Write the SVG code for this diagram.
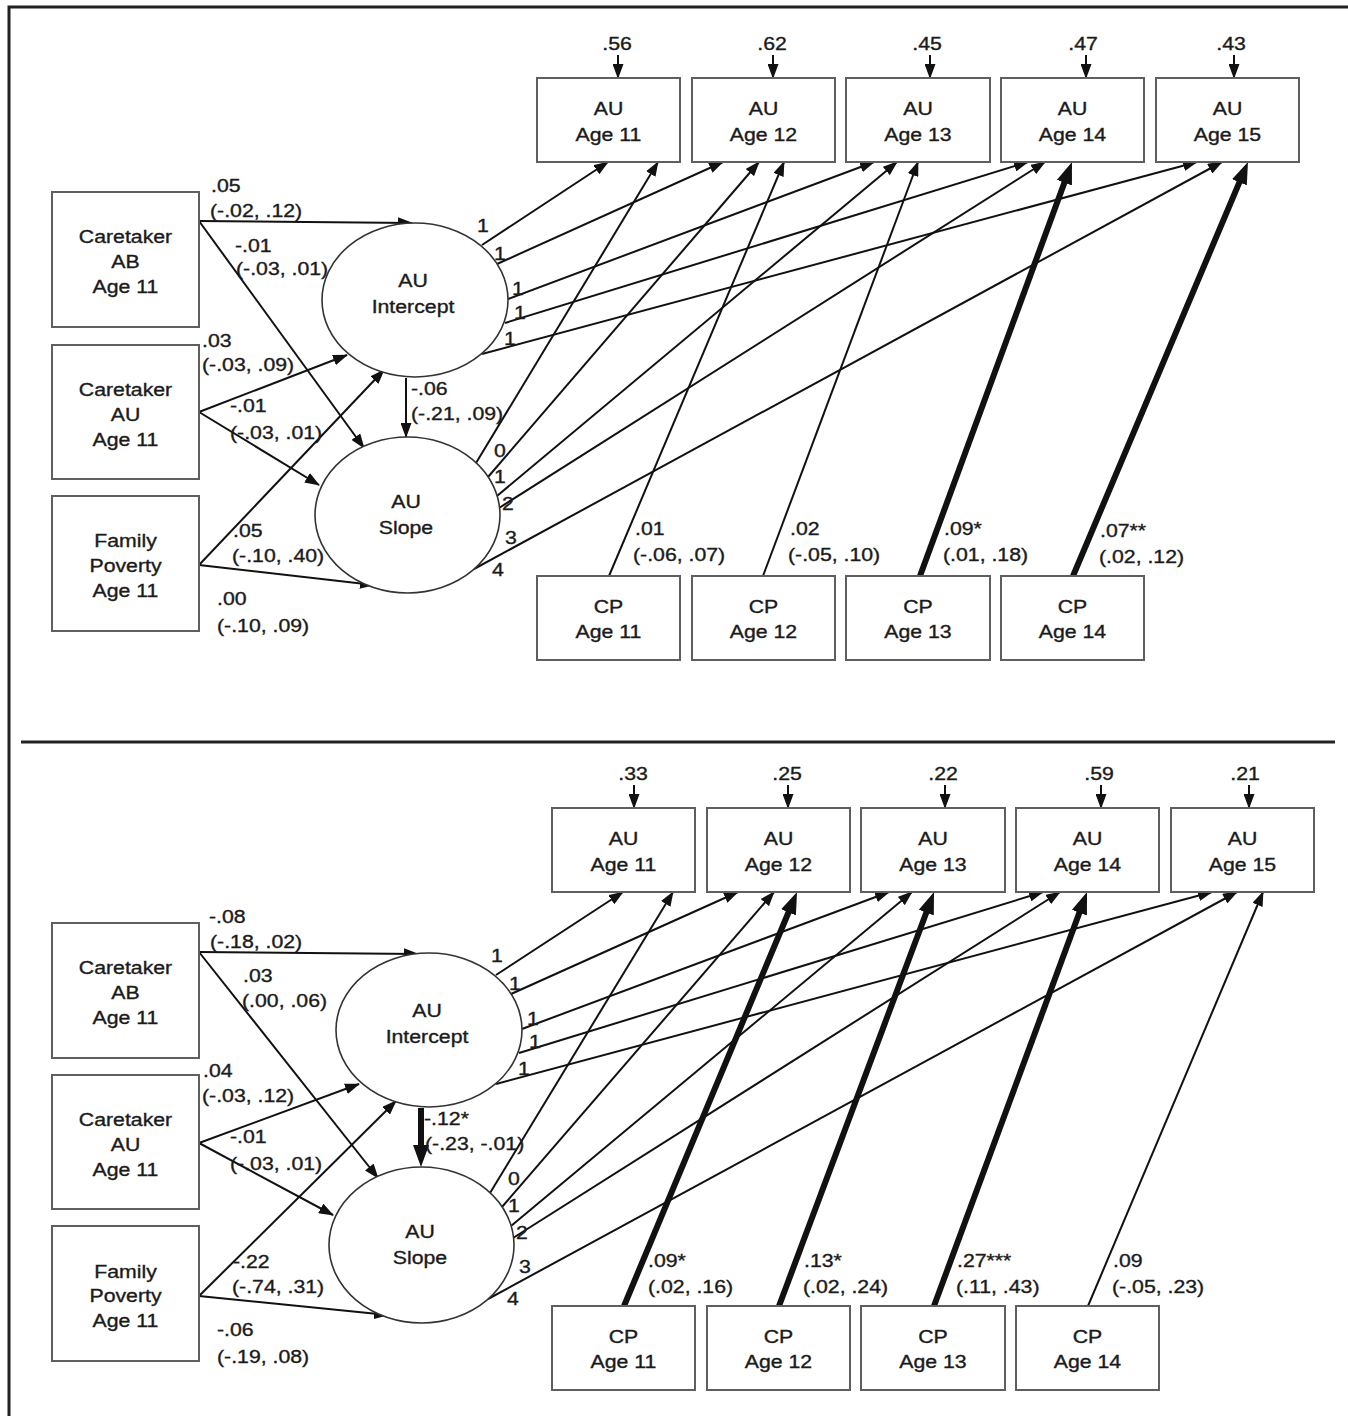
<svg xmlns="http://www.w3.org/2000/svg" width="1348" height="1416" viewBox="0 0 1348 1416">
<defs>
<marker id="ah" markerWidth="15" markerHeight="11" refX="14" refY="5.5" orient="auto" markerUnits="userSpaceOnUse"><path d="M0,0 L15,5.5 L0,11 z" fill="#111"/></marker>
<marker id="AH" markerWidth="22" markerHeight="16" refX="2" refY="8" orient="auto" markerUnits="userSpaceOnUse"><path d="M0,0 L22,8 L0,16 z" fill="#111"/></marker>
</defs>
<style>
text{font-family:"Liberation Sans",Arial,sans-serif;font-size:18.5px;fill:#1b1b1b;stroke:#1b1b1b;stroke-width:0.35px}
.c{text-anchor:middle}
.box{fill:#fff;stroke:#5f5f5f;stroke-width:2}
.ell{fill:#fff;stroke:#333;stroke-width:1.6}
.ar{stroke:#111;stroke-width:2;fill:none;marker-end:url(#ah)}
.th{stroke:#111;stroke-width:6;fill:none;marker-end:url(#AH)}
.frame{stroke:#222;stroke-width:3;fill:none}
</style>
<rect width="1348" height="1416" fill="#fff"/>
<g id="frame">
<path class="frame" d="M9,1416 V7 H1348"/>
<line class="frame" x1="21" y1="742" x2="1335" y2="742"/>
</g>

<!-- ================= TOP PANEL ================= -->
<g id="connectors-top">
<line class="ar" x1="199" y1="221" x2="412" y2="223"/>
<line class="ar" x1="199" y1="221" x2="364" y2="448"/>
<line class="ar" x1="199" y1="412" x2="347" y2="355"/>
<line class="ar" x1="199" y1="412" x2="319" y2="485"/>
<line class="ar" x1="199" y1="565" x2="384" y2="370"/>
<line class="ar" x1="199" y1="565" x2="374" y2="585"/>
<line class="ar" x1="406" y1="378" x2="406" y2="437"/>
<line class="ar" x1="482" y1="245" x2="608" y2="162"/>
<line class="ar" x1="497" y1="264" x2="723" y2="162"/>
<line class="ar" x1="508" y1="299" x2="874" y2="162"/>
<line class="ar" x1="505" y1="323" x2="1028" y2="162"/>
<line class="ar" x1="482" y1="354" x2="1197" y2="162"/>
<line class="ar" x1="476" y1="463" x2="658" y2="162"/>
<line class="ar" x1="488" y1="477" x2="759" y2="162"/>
<line class="ar" x1="497" y1="496" x2="897" y2="162"/>
<line class="ar" x1="499" y1="508" x2="1045" y2="162"/>
<line class="ar" x1="474" y1="569" x2="1222" y2="162"/>
<line class="ar" x1="609" y1="576" x2="784" y2="162"/>
<line class="ar" x1="763" y1="576" x2="918" y2="162"/>
<line class="th" x1="920" y1="576" x2="1065.1" y2="180.8"/>
<line class="th" x1="1073" y1="576" x2="1240.2" y2="180.4"/>
<line class="ar" x1="618" y1="55" x2="618" y2="78"/>
<line class="ar" x1="773" y1="55" x2="773" y2="78"/>
<line class="ar" x1="930" y1="55" x2="930" y2="78"/>
<line class="ar" x1="1086" y1="55" x2="1086" y2="78"/>
<line class="ar" x1="1234" y1="55" x2="1234" y2="78"/>
</g>

<g id="edge-labels-top">
<text transform="matrix(1.15 0 0 1 211 192)">.05</text>
<text transform="matrix(1.15 0 0 1 210 217)">(-.02, .12)</text>
<text transform="matrix(1.15 0 0 1 235 252)">-.01</text>
<text transform="matrix(1.15 0 0 1 236 275)">(-.03, .01)</text>
<text transform="matrix(1.15 0 0 1 202 347)">.03</text>
<text transform="matrix(1.15 0 0 1 202 371)">(-.03, .09)</text>
<text transform="matrix(1.15 0 0 1 230 412)">-.01</text>
<text transform="matrix(1.15 0 0 1 230 439)">(-.03, .01)</text>
<text transform="matrix(1.15 0 0 1 233 537)">.05</text>
<text transform="matrix(1.15 0 0 1 232 562)">(-.10, .40)</text>
<text transform="matrix(1.15 0 0 1 217 605)">.00</text>
<text transform="matrix(1.15 0 0 1 217 632)">(-.10, .09)</text>
<text transform="matrix(1.15 0 0 1 411 395)">-.06</text>
<text transform="matrix(1.15 0 0 1 411 420)">(-.21, .09)</text>
<text transform="matrix(1.15 0 0 1 635 535)">.01</text>
<text transform="matrix(1.15 0 0 1 633 561)">(-.06, .07)</text>
<text transform="matrix(1.15 0 0 1 790 535)">.02</text>
<text transform="matrix(1.15 0 0 1 788 561)">(-.05, .10)</text>
<text transform="matrix(1.15 0 0 1 944 535)">.09*</text>
<text transform="matrix(1.15 0 0 1 943 561)">(.01, .18)</text>
<text transform="matrix(1.15 0 0 1 1100 537)">.07**</text>
<text transform="matrix(1.15 0 0 1 1099 563)">(.02, .12)</text>
<text class="c" transform="matrix(1.15 0 0 1 483 232)">1</text>
<text class="c" transform="matrix(1.15 0 0 1 500 260)">1</text>
<text class="c" transform="matrix(1.15 0 0 1 518 295)">1</text>
<text class="c" transform="matrix(1.15 0 0 1 520 319)">1</text>
<text class="c" transform="matrix(1.15 0 0 1 510 345)">1</text>
<text class="c" transform="matrix(1.15 0 0 1 500 457)">0</text>
<text class="c" transform="matrix(1.15 0 0 1 500 483)">1</text>
<text class="c" transform="matrix(1.15 0 0 1 508 510)">2</text>
<text class="c" transform="matrix(1.15 0 0 1 511 544)">3</text>
<text class="c" transform="matrix(1.15 0 0 1 498 576)">4</text>
<text class="c" transform="matrix(1.15 0 0 1 617 50)">.56</text>
<text class="c" transform="matrix(1.15 0 0 1 772 50)">.62</text>
<text class="c" transform="matrix(1.15 0 0 1 927 50)">.45</text>
<text class="c" transform="matrix(1.15 0 0 1 1083 50)">.47</text>
<text class="c" transform="matrix(1.15 0 0 1 1231 50)">.43</text>
</g>

<g id="t-caretaker-ab"><rect class="box" x="52" y="192" width="147" height="135"/>
<text class="c" transform="matrix(1.15 0 0 1 125.5 243)">Caretaker</text><text class="c" transform="matrix(1.15 0 0 1 125.5 268)">AB</text><text class="c" transform="matrix(1.15 0 0 1 125.5 293)">Age 11</text></g>
<g id="t-caretaker-au"><rect class="box" x="52" y="345" width="147" height="134"/>
<text class="c" transform="matrix(1.15 0 0 1 125.5 396)">Caretaker</text><text class="c" transform="matrix(1.15 0 0 1 125.5 421)">AU</text><text class="c" transform="matrix(1.15 0 0 1 125.5 446)">Age 11</text></g>
<g id="t-family-poverty"><rect class="box" x="52" y="496" width="147" height="135"/>
<text class="c" transform="matrix(1.15 0 0 1 125.5 547)">Family</text><text class="c" transform="matrix(1.15 0 0 1 125.5 572)">Poverty</text><text class="c" transform="matrix(1.15 0 0 1 125.5 597)">Age 11</text></g>
<g id="t-au-intercept"><ellipse class="ell" cx="415" cy="300" rx="93" ry="77"/>
<text class="c" transform="matrix(1.15 0 0 1 413 287)">AU</text><text class="c" transform="matrix(1.15 0 0 1 413 313)">Intercept</text></g>
<g id="t-au-slope"><ellipse class="ell" cx="407.5" cy="515" rx="92.5" ry="78"/>
<text class="c" transform="matrix(1.15 0 0 1 406 508)">AU</text><text class="c" transform="matrix(1.15 0 0 1 406 534)">Slope</text></g>
<g id="t-au-11"><rect class="box" x="537" y="78" width="143" height="84"/>
<text class="c" transform="matrix(1.15 0 0 1 608.5 115)">AU</text><text class="c" transform="matrix(1.15 0 0 1 608.5 141)">Age 11</text></g>
<g id="t-au-12"><rect class="box" x="692" y="78" width="143" height="84"/>
<text class="c" transform="matrix(1.15 0 0 1 763.5 115)">AU</text><text class="c" transform="matrix(1.15 0 0 1 763.5 141)">Age 12</text></g>
<g id="t-au-13"><rect class="box" x="846" y="78" width="144" height="84"/>
<text class="c" transform="matrix(1.15 0 0 1 918 115)">AU</text><text class="c" transform="matrix(1.15 0 0 1 918 141)">Age 13</text></g>
<g id="t-au-14"><rect class="box" x="1001" y="78" width="143" height="84"/>
<text class="c" transform="matrix(1.15 0 0 1 1072.5 115)">AU</text><text class="c" transform="matrix(1.15 0 0 1 1072.5 141)">Age 14</text></g>
<g id="t-au-15"><rect class="box" x="1156" y="78" width="143" height="84"/>
<text class="c" transform="matrix(1.15 0 0 1 1227.5 115)">AU</text><text class="c" transform="matrix(1.15 0 0 1 1227.5 141)">Age 15</text></g>
<g id="t-cp-11"><rect class="box" x="537" y="576" width="143" height="84"/>
<text class="c" transform="matrix(1.15 0 0 1 608.5 613)">CP</text><text class="c" transform="matrix(1.15 0 0 1 608.5 638)">Age 11</text></g>
<g id="t-cp-12"><rect class="box" x="692" y="576" width="143" height="84"/>
<text class="c" transform="matrix(1.15 0 0 1 763.5 613)">CP</text><text class="c" transform="matrix(1.15 0 0 1 763.5 638)">Age 12</text></g>
<g id="t-cp-13"><rect class="box" x="846" y="576" width="144" height="84"/>
<text class="c" transform="matrix(1.15 0 0 1 918 613)">CP</text><text class="c" transform="matrix(1.15 0 0 1 918 638)">Age 13</text></g>
<g id="t-cp-14"><rect class="box" x="1001" y="576" width="143" height="84"/>
<text class="c" transform="matrix(1.15 0 0 1 1072.5 613)">CP</text><text class="c" transform="matrix(1.15 0 0 1 1072.5 638)">Age 14</text></g>

<!-- ================= BOTTOM PANEL ================= -->
<g id="connectors-bottom">
<line class="ar" x1="199" y1="952" x2="418" y2="954"/>
<line class="ar" x1="199" y1="952" x2="378" y2="1178"/>
<line class="ar" x1="199" y1="1143" x2="359" y2="1084"/>
<line class="ar" x1="199" y1="1143" x2="333" y2="1215"/>
<line class="ar" x1="199" y1="1296" x2="396" y2="1101"/>
<line class="ar" x1="199" y1="1296" x2="388" y2="1315"/>
<line class="th" x1="421" y1="1108" x2="421" y2="1147"/>
<line class="ar" x1="496" y1="975" x2="623" y2="892"/>
<line class="ar" x1="511" y1="994" x2="738" y2="892"/>
<line class="ar" x1="522" y1="1029" x2="889" y2="892"/>
<line class="ar" x1="519" y1="1053" x2="1043" y2="892"/>
<line class="ar" x1="496" y1="1084" x2="1212" y2="892"/>
<line class="ar" x1="490" y1="1193" x2="673" y2="892"/>
<line class="ar" x1="502" y1="1207" x2="774" y2="892"/>
<line class="ar" x1="511" y1="1226" x2="912" y2="892"/>
<line class="ar" x1="513" y1="1238" x2="1060" y2="892"/>
<line class="ar" x1="488" y1="1299" x2="1237" y2="892"/>
<line class="th" x1="624" y1="1306" x2="789.3" y2="910.5"/>
<line class="th" x1="779" y1="1306" x2="927" y2="910.7"/>
<line class="th" x1="934" y1="1306" x2="1080.1" y2="910.8"/>
<line class="ar" x1="1088" y1="1306" x2="1263" y2="892"/>
<line class="ar" x1="634" y1="785" x2="634" y2="808"/>
<line class="ar" x1="788" y1="785" x2="788" y2="808"/>
<line class="ar" x1="945" y1="785" x2="945" y2="808"/>
<line class="ar" x1="1101" y1="785" x2="1101" y2="808"/>
<line class="ar" x1="1249" y1="785" x2="1249" y2="808"/>
</g>

<g id="edge-labels-bottom">
<text transform="matrix(1.15 0 0 1 209 923)">-.08</text>
<text transform="matrix(1.15 0 0 1 210 948)">(-.18, .02)</text>
<text transform="matrix(1.15 0 0 1 243 982)">.03</text>
<text transform="matrix(1.15 0 0 1 242 1007)">(.00, .06)</text>
<text transform="matrix(1.15 0 0 1 203 1077)">.04</text>
<text transform="matrix(1.15 0 0 1 202 1102)">(-.03, .12)</text>
<text transform="matrix(1.15 0 0 1 230 1143)">-.01</text>
<text transform="matrix(1.15 0 0 1 230 1170)">(-.03, .01)</text>
<text transform="matrix(1.15 0 0 1 233 1268)">-.22</text>
<text transform="matrix(1.15 0 0 1 232 1293)">(-.74, .31)</text>
<text transform="matrix(1.15 0 0 1 217 1336)">-.06</text>
<text transform="matrix(1.15 0 0 1 217 1363)">(-.19, .08)</text>
<text transform="matrix(1.15 0 0 1 424 1125)">-.12*</text>
<text transform="matrix(1.15 0 0 1 425 1150)">(-.23, -.01)</text>
<text transform="matrix(1.15 0 0 1 648 1267)">.09*</text>
<text transform="matrix(1.15 0 0 1 648 1293)">(.02, .16)</text>
<text transform="matrix(1.15 0 0 1 804 1267)">.13*</text>
<text transform="matrix(1.15 0 0 1 803 1293)">(.02, .24)</text>
<text transform="matrix(1.15 0 0 1 957 1267)">.27***</text>
<text transform="matrix(1.15 0 0 1 956 1293)">(.11, .43)</text>
<text transform="matrix(1.15 0 0 1 1113 1267)">.09</text>
<text transform="matrix(1.15 0 0 1 1112 1293)">(-.05, .23)</text>
<text class="c" transform="matrix(1.15 0 0 1 497 962)">1</text>
<text class="c" transform="matrix(1.15 0 0 1 515 990)">1</text>
<text class="c" transform="matrix(1.15 0 0 1 533 1025)">1</text>
<text class="c" transform="matrix(1.15 0 0 1 535 1048)">1</text>
<text class="c" transform="matrix(1.15 0 0 1 524 1075)">1</text>
<text class="c" transform="matrix(1.15 0 0 1 514 1185)">0</text>
<text class="c" transform="matrix(1.15 0 0 1 514 1212)">1</text>
<text class="c" transform="matrix(1.15 0 0 1 522 1239)">2</text>
<text class="c" transform="matrix(1.15 0 0 1 525 1273)">3</text>
<text class="c" transform="matrix(1.15 0 0 1 513 1305)">4</text>
<text class="c" transform="matrix(1.15 0 0 1 633 780)">.33</text>
<text class="c" transform="matrix(1.15 0 0 1 787 780)">.25</text>
<text class="c" transform="matrix(1.15 0 0 1 943 780)">.22</text>
<text class="c" transform="matrix(1.15 0 0 1 1099 780)">.59</text>
<text class="c" transform="matrix(1.15 0 0 1 1245 780)">.21</text>
</g>

<g id="b-caretaker-ab"><rect class="box" x="52" y="923" width="147" height="135"/>
<text class="c" transform="matrix(1.15 0 0 1 125.5 974)">Caretaker</text><text class="c" transform="matrix(1.15 0 0 1 125.5 999)">AB</text><text class="c" transform="matrix(1.15 0 0 1 125.5 1024)">Age 11</text></g>
<g id="b-caretaker-au"><rect class="box" x="52" y="1075" width="147" height="134"/>
<text class="c" transform="matrix(1.15 0 0 1 125.5 1126)">Caretaker</text><text class="c" transform="matrix(1.15 0 0 1 125.5 1151)">AU</text><text class="c" transform="matrix(1.15 0 0 1 125.5 1176)">Age 11</text></g>
<g id="b-family-poverty"><rect class="box" x="52" y="1226" width="147" height="135"/>
<text class="c" transform="matrix(1.15 0 0 1 125.5 1278)">Family</text><text class="c" transform="matrix(1.15 0 0 1 125.5 1302)">Poverty</text><text class="c" transform="matrix(1.15 0 0 1 125.5 1327)">Age 11</text></g>
<g id="b-au-intercept"><ellipse class="ell" cx="429" cy="1030" rx="93" ry="77"/>
<text class="c" transform="matrix(1.15 0 0 1 427 1017)">AU</text><text class="c" transform="matrix(1.15 0 0 1 427 1043)">Intercept</text></g>
<g id="b-au-slope"><ellipse class="ell" cx="421.5" cy="1245" rx="92.5" ry="78"/>
<text class="c" transform="matrix(1.15 0 0 1 420 1238)">AU</text><text class="c" transform="matrix(1.15 0 0 1 420 1264)">Slope</text></g>
<g id="b-au-11"><rect class="box" x="552" y="808" width="143" height="84"/>
<text class="c" transform="matrix(1.15 0 0 1 623.5 845)">AU</text><text class="c" transform="matrix(1.15 0 0 1 623.5 871)">Age 11</text></g>
<g id="b-au-12"><rect class="box" x="707" y="808" width="143" height="84"/>
<text class="c" transform="matrix(1.15 0 0 1 778.5 845)">AU</text><text class="c" transform="matrix(1.15 0 0 1 778.5 871)">Age 12</text></g>
<g id="b-au-13"><rect class="box" x="861" y="808" width="144" height="84"/>
<text class="c" transform="matrix(1.15 0 0 1 933 845)">AU</text><text class="c" transform="matrix(1.15 0 0 1 933 871)">Age 13</text></g>
<g id="b-au-14"><rect class="box" x="1016" y="808" width="143" height="84"/>
<text class="c" transform="matrix(1.15 0 0 1 1087.5 845)">AU</text><text class="c" transform="matrix(1.15 0 0 1 1087.5 871)">Age 14</text></g>
<g id="b-au-15"><rect class="box" x="1171" y="808" width="143" height="84"/>
<text class="c" transform="matrix(1.15 0 0 1 1242.5 845)">AU</text><text class="c" transform="matrix(1.15 0 0 1 1242.5 871)">Age 15</text></g>
<g id="b-cp-11"><rect class="box" x="552" y="1306" width="143" height="84"/>
<text class="c" transform="matrix(1.15 0 0 1 623.5 1343)">CP</text><text class="c" transform="matrix(1.15 0 0 1 623.5 1368)">Age 11</text></g>
<g id="b-cp-12"><rect class="box" x="707" y="1306" width="143" height="84"/>
<text class="c" transform="matrix(1.15 0 0 1 778.5 1343)">CP</text><text class="c" transform="matrix(1.15 0 0 1 778.5 1368)">Age 12</text></g>
<g id="b-cp-13"><rect class="box" x="861" y="1306" width="144" height="84"/>
<text class="c" transform="matrix(1.15 0 0 1 933 1343)">CP</text><text class="c" transform="matrix(1.15 0 0 1 933 1368)">Age 13</text></g>
<g id="b-cp-14"><rect class="box" x="1016" y="1306" width="143" height="84"/>
<text class="c" transform="matrix(1.15 0 0 1 1087.5 1343)">CP</text><text class="c" transform="matrix(1.15 0 0 1 1087.5 1368)">Age 14</text></g>
</svg>
